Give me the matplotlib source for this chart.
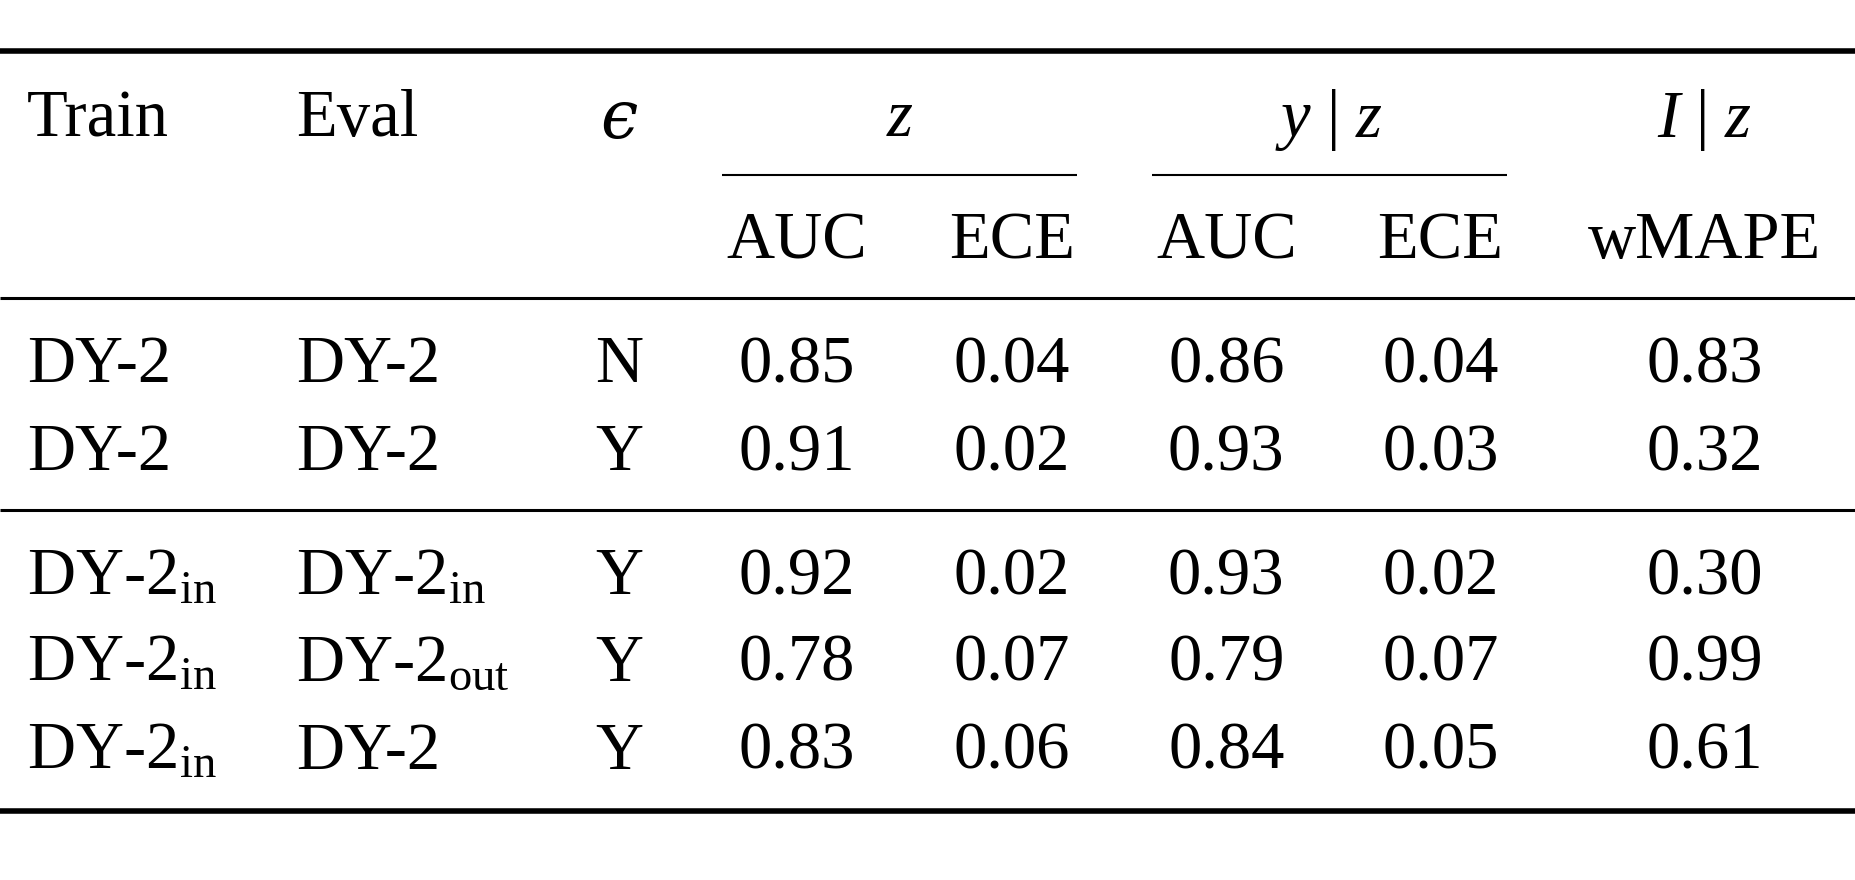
import matplotlib
matplotlib.use("Agg")
import matplotlib.pyplot as plt

plt.rcParams['font.family'] = ['Liberation Serif', 'DejaVu Serif']
plt.rcParams['mathtext.fontset'] = 'custom'
plt.rcParams['mathtext.rm'] = 'Liberation Serif'
plt.rcParams['mathtext.it'] = 'Liberation Serif:italic'

train = ["DY-2", "DY-2", "DY-2$_{\\mathrm{in}}$", "DY-2$_{\\mathrm{in}}$", "DY-2$_{\\mathrm{in}}$"]
evals = ["DY-2", "DY-2", "DY-2$_{\\mathrm{in}}$", "DY-2$_{\\mathrm{out}}$", "DY-2"]
eps = ["N", "Y", "Y", "Y", "Y"]
z_auc = [0.85, 0.91, 0.92, 0.78, 0.83]
z_ece = [0.04, 0.02, 0.02, 0.07, 0.06]
yz_auc = [0.86, 0.93, 0.93, 0.79, 0.84]
yz_ece = [0.04, 0.03, 0.02, 0.07, 0.05]
iz_wmape = [0.83, 0.32, 0.30, 0.99, 0.61]

W, H = 1568, 743
fig = plt.figure(figsize=(18.56, 8.8), dpi=100)
ax = fig.add_axes([0, 0, 1, 1])
ax.set_xlim(0, W); ax.set_ylim(H, 0); ax.axis('off')

fs = 48
dy = 4
def t(x, y, s, ha='center', **kw):
    ax.text(x, y + dy, s, ha=ha, va='center', fontsize=fs, **kw)

def hl(y, x0=0, x1=W, lw=1.5):
    ax.plot([x0, x1], [y, y], color='black', lw=lw, solid_capstyle='butt')

hl(43, lw=4); hl(252, lw=2.2); hl(431, lw=2.2); hl(685, lw=4)
hl(148, 610, 910, lw=1.5); hl(148, 973, 1273, lw=1.5)

t(23, 97, "Train", 'left'); t(250, 97, "Eval", 'left')
t(523, 97, "\u03f5", style='italic', family=['DejaVu Serif'])
t(760, 97, "$z$"); t(1123, 97, "$y\\ |\\ z$"); t(1440, 97, "$I\\ |\\ z$")
for x, s in [(673, "AUC"), (855, "ECE"), (1036, "AUC"), (1217, "ECE"), (1440, "wMAPE")]:
    t(x, 200, s)

ys = [305, 379, 484, 557, 631]
for i, y in enumerate(ys):
    t(23, y, train[i], 'left'); t(250, y, evals[i], 'left'); t(523, y, eps[i])
    t(673, y, f"{z_auc[i]:.2f}"); t(855, y, f"{z_ece[i]:.2f}")
    t(1036, y, f"{yz_auc[i]:.2f}"); t(1217, y, f"{yz_ece[i]:.2f}")
    t(1440, y, f"{iz_wmape[i]:.2f}")

fig.savefig("out.png", dpi=100)
